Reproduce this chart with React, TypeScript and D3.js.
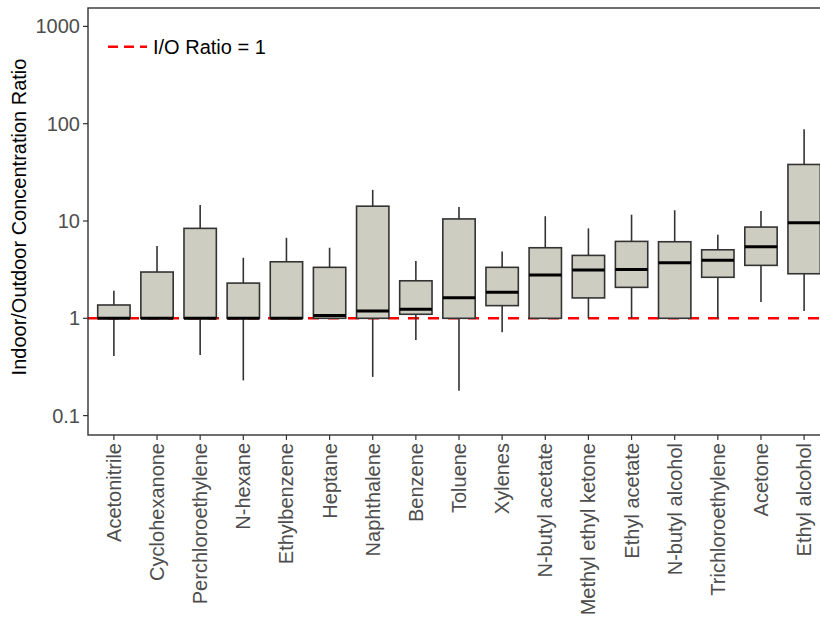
import React from "react";
import * as d3 from "d3";

const categories = [
  "Acetonitrile", "Cyclohexanone", "Perchloroethylene", "N-hexane", "Ethylbenzene",
  "Heptane", "Naphthalene", "Benzene", "Toluene", "Xylenes", "N-butyl acetate",
  "Methyl ethyl ketone", "Ethyl acetate", "N-butyl alcohol", "Trichloroethylene",
  "Acetone", "Ethyl alcohol",
];
const whiskerLow = [0.41, 1, 0.42, 0.23, 1, 1, 0.25, 0.6, 0.18, 0.72, 1, 1, 1, 1, 1, 1.47, 1.19];
const q1 = [1, 1, 1, 1, 1, 1, 1, 1.1, 1, 1.35, 1, 1.62, 2.08, 1, 2.64, 3.5, 2.87];
const median = [1, 1, 1, 1, 1, 1.07, 1.19, 1.24, 1.63, 1.85, 2.78, 3.13, 3.18, 3.72, 3.94, 5.43, 9.59];
const q3 = [1.37, 2.99, 8.4, 2.3, 3.81, 3.34, 14.2, 2.43, 10.5, 3.34, 5.31, 4.43, 6.17, 6.12, 5.06, 8.66, 38.1];
const whiskerHigh = [1.92, 5.52, 14.6, 4.19, 6.72, 5.31, 20.9, 3.88, 13.9, 4.87, 11.2, 8.4, 11.6, 12.9, 7.21, 12.7, 87.8];
const yTicks = [0.1, 1, 10, 100, 1000];
const yTickLabels = ["0.1", "1", "10", "100", "1000"];
const refValue = 1;
const legendLabel = "I/O Ratio = 1";
const yTitle = "Indoor/Outdoor Concentration Ratio";

const W = 820;
const H = 617;
const panel = { left: 88, right: 830, top: 8, bottom: 435 };
const FONT = "'Liberation Sans', Arial, Helvetica, sans-serif";
const FS = 20;

export default function App() {
  const x = d3.scalePoint<string>().domain(categories).range([panel.left, panel.right]).padding(0.6);
  const y = d3.scaleLog().domain([0.0632, 1545]).range([panel.bottom, panel.top]);
  const bw = x.step() * 0.75;
  const fill = "#CDCDC1";
  const edge = "#333333";

  return (
    <svg
      width={W}
      height={H}
      style={{ position: "absolute", left: 0, top: 0, background: "#fff" }}
      fontFamily={FONT}
    >
      <defs>
        <clipPath id="panelClip">
          <rect x={panel.left} y={panel.top} width={panel.right - panel.left} height={panel.bottom - panel.top} />
        </clipPath>
      </defs>
      <g clipPath="url(#panelClip)">
        <line
          x1={panel.left}
          x2={panel.right}
          y1={y(refValue)}
          y2={y(refValue)}
          stroke="#FF0000"
          strokeWidth={2.6}
          strokeDasharray="11,9"
        />
        {categories.map((c, i) => {
          const cx = x(c)!;
          return (
            <g key={c}>
              <line x1={cx} x2={cx} y1={y(q3[i])} y2={y(whiskerHigh[i])} stroke={edge} strokeWidth={1.6} />
              <line x1={cx} x2={cx} y1={y(q1[i])} y2={y(whiskerLow[i])} stroke={edge} strokeWidth={1.6} />
              <rect
                x={cx - bw / 2}
                y={y(q3[i])}
                width={bw}
                height={y(q1[i]) - y(q3[i])}
                fill={fill}
                stroke={edge}
                strokeWidth={1.6}
              />
              <line
                x1={cx - bw / 2}
                x2={cx + bw / 2}
                y1={y(median[i])}
                y2={y(median[i])}
                stroke="#000"
                strokeWidth={3}
              />
            </g>
          );
        })}
      </g>
      <rect
        x={panel.left}
        y={panel.top}
        width={panel.right - panel.left}
        height={panel.bottom - panel.top}
        fill="none"
        stroke="#333333"
        strokeWidth={1.4}
      />
      {yTicks.map((t, i) => (
        <g key={t}>
          <line x1={panel.left - 5} x2={panel.left} y1={y(t)} y2={y(t)} stroke="#333333" strokeWidth={1.2} />
          <text x={panel.left - 8} y={y(t)} dy="0.35em" textAnchor="end" fontSize={FS} fill="#4D4D4D">
            {yTickLabels[i]}
          </text>
        </g>
      ))}
      <text
        transform={`translate(${19},${217}) rotate(-90)`}
        textAnchor="middle"
        dy="0.35em"
        fontSize={FS}
        fill="#000"
      >
        {yTitle}
      </text>
      {categories.map((c) => {
        const cx = x(c)!;
        return (
          <g key={c}>
            <line x1={cx} x2={cx} y1={panel.bottom} y2={panel.bottom + 5} stroke="#333333" strokeWidth={1.2} />
            <text
              transform={`translate(${cx},${panel.bottom + 8}) rotate(-90)`}
              textAnchor="end"
              dy="0.35em"
              fontSize={FS}
              fill="#4D4D4D"
            >
              {c}
            </text>
          </g>
        );
      })}
      <line x1={108} x2={147} y1={46.7} y2={46.7} stroke="#FF0000" strokeWidth={2.6} strokeDasharray="10,6" />
      <text x={153} y={46.7} dy="0.35em" fontSize={FS} fill="#000">
        {legendLabel}
      </text>
    </svg>
  );
}
